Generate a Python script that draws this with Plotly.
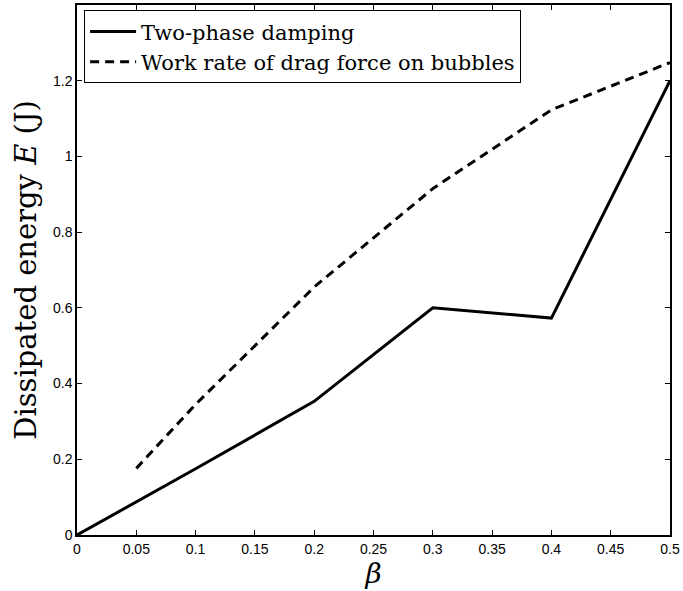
import plotly.graph_objects as go

# Dissipated energy versus void fraction beta
beta_damping = [0.0, 0.1, 0.2, 0.3, 0.4, 0.5]
energy_damping = [0.0, 0.175, 0.353, 0.600, 0.573, 1.200]

beta_drag = [0.05, 0.1, 0.2, 0.3, 0.4, 0.5]
energy_drag = [0.176, 0.345, 0.655, 0.915, 1.123, 1.248]

x_ticks = [0, 0.05, 0.1, 0.15, 0.2, 0.25, 0.3, 0.35, 0.4, 0.45, 0.5]
x_tick_text = ["0", "0.05", "0.1", "0.15", "0.2", "0.25", "0.3", "0.35", "0.4", "0.45", "0.5"]
y_ticks = [0, 0.2, 0.4, 0.6, 0.8, 1.0, 1.2]
y_tick_text = ["0", "0.2", "0.4", "0.6", "0.8", "1", "1.2"]

serif = "DejaVu Serif"
sans = "Liberation Sans"

fig = go.Figure()
fig.add_trace(go.Scatter(
    x=beta_damping, y=energy_damping, mode="lines",
    name="Two-phase damping",
    line=dict(color="black", width=3),
))
fig.add_trace(go.Scatter(
    x=beta_drag, y=energy_drag, mode="lines",
    name="Work rate of drag force on bubbles",
    line=dict(color="black", width=3, dash="9px,6px"),
))

axis_common = dict(
    showgrid=False, zeroline=False, showline=True, linecolor="black",
    linewidth=1.5, mirror="ticks", ticks="inside", ticklen=5,
    tickcolor="black", tickwidth=1, ticklabeloverflow="allow",
    tickfont=dict(family=sans, size=14, color="black"),
)

fig.update_layout(
    width=683, height=591,
    margin=dict(l=77, r=9, t=3, b=56),
    paper_bgcolor="white", plot_bgcolor="white",
    font=dict(family=serif, color="black"),
    showlegend=True,
    legend=dict(
        x=0.012, y=0.99, xanchor="left", yanchor="top",
        bgcolor="white", bordercolor="black", borderwidth=1,
        font=dict(family=serif, size=21, color="black"),
        tracegroupgap=0, itemwidth=46,
    ),
    xaxis=dict(
        range=[0, 0.5], tickvals=x_ticks, ticktext=x_tick_text,
        title=dict(text="<i>β</i>", font=dict(family=serif, size=28, color="black"), standoff=2),
        **axis_common,
    ),
    yaxis=dict(
        range=[0, 1.4], tickvals=y_ticks, ticktext=y_tick_text,
        title=dict(text="Dissipated energy <i>E</i> (J)", font=dict(family=serif, size=29, color="black"), standoff=8),
        **axis_common,
    ),
)

fig.write_html("out.html")
